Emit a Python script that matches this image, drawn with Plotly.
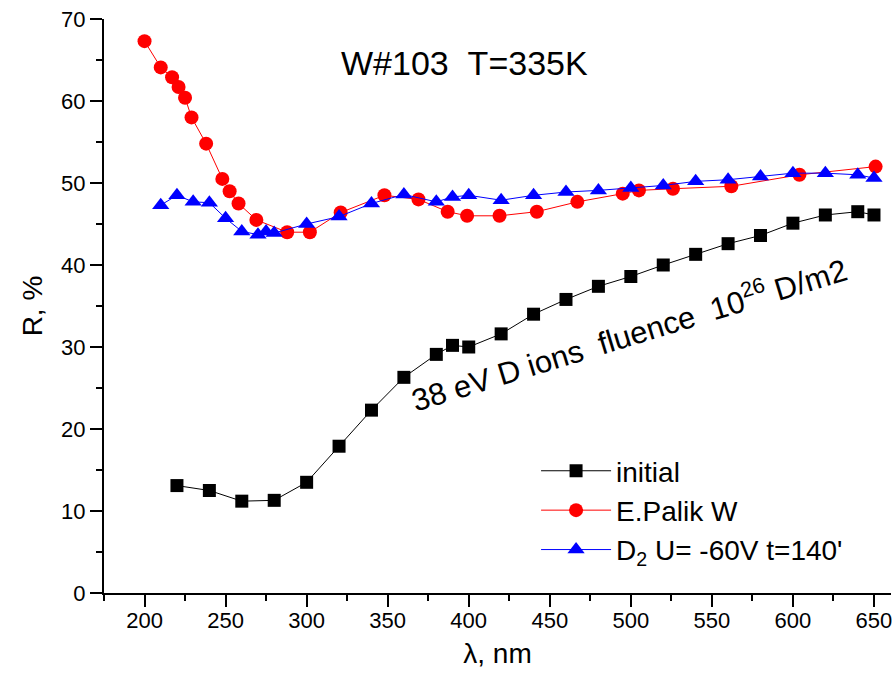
import plotly.graph_objects as go

# ---- data ----
initial_x = [220, 240, 260, 280, 300, 320, 340, 360, 380, 390, 400, 420, 440, 460,
             480, 500, 520, 540, 560, 580, 600, 620, 640, 650]
initial_y = [13.1, 12.5, 11.2, 11.3, 13.5, 17.9, 22.3, 26.3, 29.1, 30.2, 30.0, 31.6, 34.0, 35.8,
             37.4, 38.6, 40.0, 41.3, 42.6, 43.6, 45.1, 46.1, 46.5, 46.1]

palik_x = [200, 210, 217, 221, 225, 229, 238, 248, 252.5, 258, 269, 288, 302, 321, 348, 369,
           387, 399, 419, 442, 467, 495, 505, 526, 562, 604, 651]
palik_y = [67.3, 64.1, 62.9, 61.7, 60.4, 58.0, 54.8, 50.5, 49.0, 47.5, 45.5, 44.0, 44.0, 46.4,
           48.5, 48.0, 46.5, 46.0, 46.0, 46.5, 47.7, 48.7, 49.1, 49.3, 49.6, 51.0, 52.0]

d2_x = [210, 220, 230, 240, 250, 260, 270, 275, 280, 300, 320, 340, 360, 380, 390, 400, 420,
        440, 460, 480, 500, 520, 540, 560, 580, 600, 620, 640, 650]
d2_y = [47.3, 48.5, 47.7, 47.6, 45.7, 44.1, 43.7, 44.1, 43.9, 45.0, 45.9, 47.5, 48.6, 47.7,
        48.3, 48.5, 47.9, 48.5, 48.9, 49.1, 49.4, 49.7, 50.2, 50.4, 50.8, 51.2, 51.2, 51.0, 50.6]

FONT = "Liberation Sans, Arial, sans-serif"

fig = go.Figure()
fig.add_trace(go.Scatter(x=initial_x, y=initial_y, mode="lines+markers", name="initial",
                         line=dict(color="black", width=1),
                         marker=dict(symbol="square", size=13, color="black")))
fig.add_trace(go.Scatter(x=palik_x, y=palik_y, mode="lines+markers", name="E.Palik W",
                         line=dict(color="#ff0000", width=1),
                         marker=dict(symbol="circle", size=14, color="#ff0000")))
fig.add_trace(go.Scatter(x=d2_x, y=d2_y, mode="lines+markers",
                         name="D<sub>2</sub> U= -60V t=140'",
                         line=dict(color="#0000ff", width=1),
                         marker=dict(symbol="triangle-up", size=15, color="#0000ff")))

axis_common = dict(showline=True, linewidth=2, linecolor="black", showgrid=False,
                   zeroline=False, ticks="outside", ticklen=12, tickwidth=2, tickcolor="black",
                   tickfont=dict(family=FONT, size=22, color="black"),
                   title_font=dict(family=FONT, size=28, color="black"),
                   ticklabeloverflow="allow")

fig.update_layout(
    width=892, height=682,
    margin=dict(l=104, r=1, t=19, b=89, autoexpand=False),
    plot_bgcolor="white", paper_bgcolor="white",
    font=dict(family=FONT, color="black"),
    xaxis=dict(range=[175, 660.5], dtick=50, tick0=0, ticklabelstandoff=-5,
               minor=dict(dtick=25, tick0=0, ticks="outside", ticklen=6, tickwidth=2, tickcolor="black"),
               title=dict(text="λ, nm", standoff=11), **axis_common),
    yaxis=dict(range=[0, 70], dtick=10, tick0=0,
               minor=dict(dtick=5, tick0=0, ticks="outside", ticklen=6, tickwidth=2, tickcolor="black"),
               title=dict(text="R, %", standoff=10), **axis_common),
    legend=dict(x=0.549, y=0.256, xanchor="left", yanchor="top",
                font=dict(family=FONT, size=28, color="black"),
                bgcolor="rgba(0,0,0,0)", itemwidth=70, tracegroupgap=0),
    showlegend=True,
)

fig.add_annotation(text="W#103\u00a0\u00a0T=335K", xref="paper", yref="paper",
                   x=0.458, y=0.924, xanchor="center", yanchor="middle", showarrow=False,
                   font=dict(family=FONT, size=34, color="black"))
fig.add_annotation(text="38 eV D ions\u00a0\u00a0fluence\u00a0\u00a010<sup>26</sup> D/m2",
                   xref="paper", yref="paper", x=0.667, y=0.453,
                   xanchor="center", yanchor="middle", showarrow=False,
                   textangle=-17, font=dict(family=FONT, size=31, color="black"))

fig.write_html("out.html")
